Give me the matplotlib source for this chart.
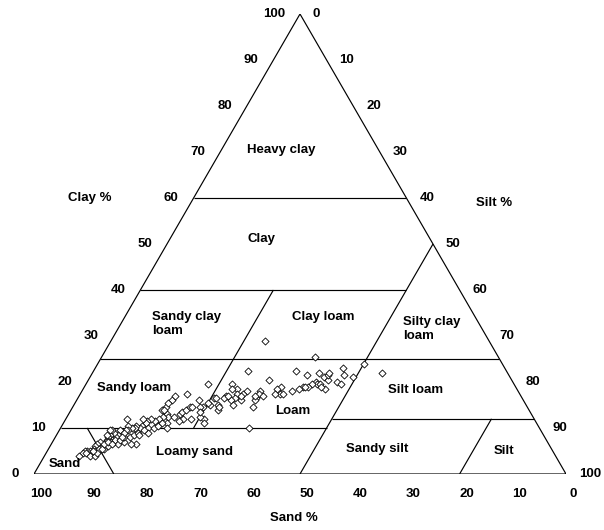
import numpy as np
import matplotlib
matplotlib.use("Agg")
import matplotlib.pyplot as plt

plt.rcParams['font.family'] = ['Liberation Sans', 'DejaVu Sans']

# soil samples (percent), silt is the remainder
sand = [42, 34.5, 26, 23.5, 30.5, 39.5, 48.5, 38, 35.5, 35, 34.5, 34, 33.5, 33, 32.5, 31, 29.5,
        37, 37, 38, 39, 40, 41, 42.5, 44, 45, 45, 44.5, 46, 45.5, 48.5, 49, 48.5, 50, 50.5, 51.5,
        51, 52, 52.5, 53, 54, 53, 53.5, 55, 55, 53, 55.5, 56, 58, 58.5, 58, 57.5, 57.5, 59.5, 61, 54.5, 62,
        62.5, 66, 55, 58, 59.5, 61.5, 61, 68, 69, 68.5, 68.5, 67.5, 66, 65.5, 64.5, 63.5, 63,
        64.5, 66, 67, 62.5, 62.5, 71, 69.5, 69.5, 70.5, 71.5, 72, 73, 73.5, 74.5, 73.5,
        75, 75.5, 76, 76.5, 77, 77.5, 78, 79, 79, 80, 80.5, 80.5, 81.5, 82, 82.5, 83, 84, 85, 85.5, 86,
        87, 87.5, 88, 88.5, 86.5, 86, 85, 84, 83, 82, 81.5, 81, 81, 79.5, 79, 78, 77, 76, 76,
        77.5, 78.5, 78.5, 80.5, 81, 82, 73.5, 72.5, 71.5, 70.5, 70, 74, 74.5, 68.5, 62,
        88, 87.5, 86.5, 86, 86.5, 84.5, 83.5, 82.5, 82, 80, 79.5, 89.5, 76.5, 67, 65,
        36.5, 36, 36.5, 39.5, 52.5, 50]
clay = [29, 25.5, 24, 22, 23, 22.5, 22.5, 21.5, 22, 21, 20.5, 21.5, 22, 20, 19.5, 21.5, 21,
        20, 19.5, 19.5, 19, 19, 18.5, 18, 19, 18.5, 17.5, 17.5, 17.5, 20.5, 18, 17.5, 17, 16.5, 16, 14.5,
        18, 17.5, 18.5, 17.5, 16.5, 19.5, 18.5, 16, 15, 16, 17, 16.5, 15, 14, 16.5, 16.5, 19.5, 15, 14.5, 10, 12,
        17.5, 16, 17, 14.5, 15.5, 14.5, 16, 14.5, 14, 13, 12.5, 12.5, 13, 13.5, 14, 14.5, 14.5,
        12, 12, 11.5, 11, 12.5, 11.5, 12.5, 11, 12, 11.5, 12, 11.5, 11, 10.5, 12,
        10, 10.5, 10, 10, 10.5, 9.5, 9.5, 9, 9.5, 8.5, 8, 9, 8.5, 8, 7.5, 7, 7, 6.5, 6, 5.5,
        5, 5, 5, 4.5, 4.5, 5, 5.5, 5.5, 6, 7, 7, 7.5, 6.5, 7, 8, 8, 8.5, 9, 8.5,
        6.5, 6.5, 9, 9.5, 9.5, 8.5, 10, 10, 10.5, 11, 10, 9, 9.5, 14, 13.5,
        4.5, 4, 4, 4.5, 5, 5.5, 6.5, 7, 6.5, 7.5, 8, 4, 12, 15.5, 17,
        19.5, 18.5, 19, 19, 17, 17]

# class boundaries as (clay, silt) pairs
boundaries = [
    [(0, 0), (0, 100), (100, 0), (0, 0)],
    [(60, 0), (60, 40)],
    [(40, 0), (40, 50)],
    [(25, 0), (25, 75)],
    [(10, 0), (10, 50)],
    [(12, 50), (12, 88)],
    [(50, 50), (0, 50)],
    [(40, 25), (10, 25)],
    [(10, 5), (0, 15)],
    [(12, 80), (0, 80)],
]

classes = ["Heavy clay", "Clay", "Sandy clay\nloam", "Clay loam", "Silty clay\nloam",
           "Sandy loam", "Loam", "Silt loam", "Loamy sand", "Sandy silt", "Silt", "Sand"]
class_pos = [(46.5, 70.4, 'center'), (42.7, 51.0, 'center'), (22.2, 32.6, 'left'),
             (54.3, 34.1, 'center'), (69.4, 31.5, 'left'), (18.9, 18.8, 'center'),
             (48.6, 13.6, 'center'), (71.7, 18.2, 'center'), (30.1, 4.8, 'center'),
             (64.5, 5.4, 'center'), (88.4, 5.0, 'center'), (5.8, 2.2, 'center')]

ticks = [0, 10, 20, 30, 40, 50, 60, 70, 80, 90, 100]


def to_xy(c, t):
    return t + c / 2.0, c


fig = plt.figure(figsize=(6.04, 5.30), dpi=100)
ax = fig.add_axes([34 / 604, 56 / 530, 532 / 604, 460 / 530])
ax.set_xlim(0, 100)
ax.set_ylim(0, 100)
ax.axis('off')

for seg in boundaries:
    xs, ys = zip(*[to_xy(c, t) for c, t in seg])
    ax.plot(xs, ys, color='black', lw=0.85, solid_capstyle='butt')

sand_a = np.array(sand)
clay_a = np.array(clay)
silt_a = 100 - sand_a - clay_a
px, py = to_xy(clay_a, silt_a)
ax.scatter(px, py, marker='D', s=13, facecolors='white', edgecolors='black',
           linewidths=0.6, zorder=3, clip_on=False)

fs = 9.5
kw = dict(fontsize=fs, fontweight='bold', va='center')
for name, (x, y, ha) in zip(classes, class_pos):
    ax.text(x, y, name, ha=ha, linespacing=1.15, **kw)

# px -> data units
dx = 1 / 5.32
dy = 1 / 4.6
for v in ticks:
    # clay on left edge
    x, y = to_xy(v, 0)
    ax.text(x - 15 * dx, y, str(v), ha='right', clip_on=False, **kw)
    # silt on right edge
    x, y = to_xy(v, 100 - v)
    ax.text(x + 13 * dx, y, str(100 - v), ha='left', clip_on=False, **kw)
    # sand along base
    x, y = to_xy(0, 100 - v)
    ax.text(x + 7 * dx, -20 * dy, str(v), ha='center', clip_on=False, **kw)

ax.text(10.5, 59.9, "Clay %", ha='center', **kw)
ax.text(86.4, 59.0, "Silt %", ha='center', **kw)
ax.text(48.8, -9.6, "Sand %", ha='center', **kw)

fig.savefig("out.png", dpi=100)
